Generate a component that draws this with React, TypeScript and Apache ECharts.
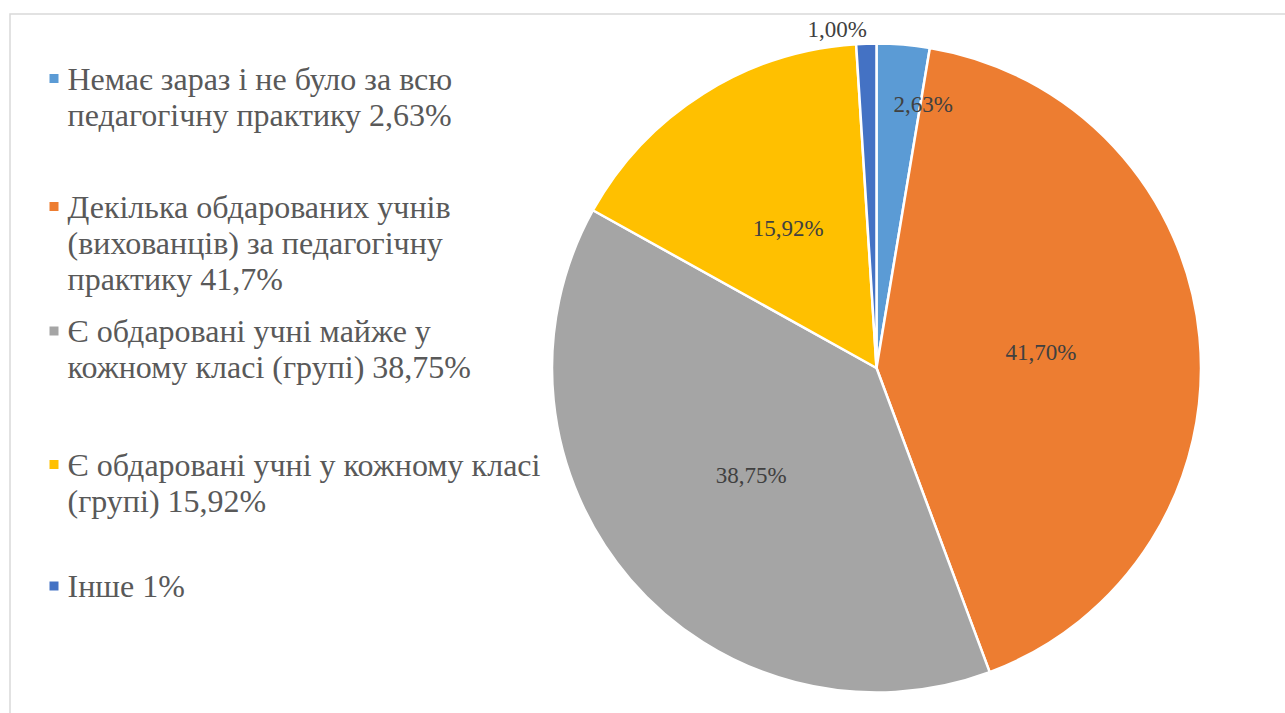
import React, { useEffect, useRef } from "react";
import * as echarts from "echarts";

// ---- Data ----
const categories: string[] = [
  "Немає зараз і не було за всю педагогічну практику 2,63%",
  "Декілька обдарованих учнів (вихованців) за педагогічну практику 41,7%",
  "Є обдаровані учні майже у кожному класі (групі) 38,75%",
  "Є обдаровані учні у кожному класі (групі) 15,92%",
  "Інше 1%",
];
const legendLines: string[][] = [
  ["Немає зараз і не було за всю", "педагогічну практику 2,63%"],
  ["Декілька обдарованих учнів", "(вихованців) за педагогічну", "практику 41,7%"],
  ["Є обдаровані учні майже у", "кожному класі (групі) 38,75%"],
  ["Є обдаровані учні у кожному класі", "(групі) 15,92%"],
  ["Інше 1%"],
];
const values: number[] = [2.63, 41.7, 38.75, 15.92, 1.0];
const colors: string[] = ["#5B9BD5", "#ED7D31", "#A5A5A5", "#FFC000", "#4472C4"];

// ---- Layout config ----
const FONT = "Times New Roman";
const LEGEND_LH = 36;
const LEGEND_CENTERS = [78.5, 206.5, 331, 464.5, 586];
const LABEL_NUDGE: { dx: number; dy: number }[] = [
  { dx: 33, dy: -99 },
  { dx: 0, dy: 0 },
  { dx: 0, dy: 0 },
  { dx: 0, dy: 0 },
  { dx: -34, dy: -173 },
];

const FONT_CSS =
  '#root svg text, #root svg tspan { font-family: "Times New Roman", "Liberation Serif", serif !important; }';

export default function App() {
  const ref = useRef<HTMLDivElement>(null);
  useEffect(() => {
    if (!ref.current) return;
    const chart = echarts.init(ref.current, undefined, { renderer: "svg" });

    const legends = categories.map((name, i) => {
      const n = legendLines[i].length;
      // leading blank lines keep the first line level with the marker
      const text = new Array(n - 1).fill(" ").concat(legendLines[i]).join("\n");
      return {
        data: [{ name, icon: "rect" }],
        orient: "vertical",
        left: 47.5,
        top: LEGEND_CENTERS[i] - ((2 * n - 1) * LEGEND_LH) / 2,
        padding: 0,
        itemWidth: 11,
        itemHeight: 11,
        selectedMode: false,
        formatter: () => text,
        textStyle: {
          fontFamily: FONT,
          fontSize: 32,
          color: "#595959",
          lineHeight: LEGEND_LH,
          padding: [0, 0, 0, 3],
        },
      };
    });

    chart.setOption({
      animation: false,
      backgroundColor: "#ffffff",
      textStyle: { fontFamily: FONT },
      graphic: [
        {
          type: "rect",
          shape: { x: 10, y: 14, width: 1300, height: 750 },
          style: { fill: "none", stroke: "#d9d9d9", lineWidth: 1.5 },
          silent: true,
        },
      ],
      legend: legends,
      series: [
        {
          type: "pie",
          center: [876.5, 368],
          radius: 324.5,
          startAngle: 90,
          clockwise: true,
          avoidLabelOverlap: false,
          itemStyle: { borderColor: "#ffffff", borderWidth: 2.5 },
          label: {
            show: true,
            position: "inside",
            fontFamily: FONT,
            fontSize: 23,
            color: "#404040",
            formatter: (p: any) => p.value.toFixed(2).replace(".", ",") + "%",
          },
          labelLine: { show: false },
          labelLayout: (params: any) => LABEL_NUDGE[params.dataIndex],
          emphasis: { disabled: true },
          data: categories.map((name, i) => ({
            name,
            value: values[i],
            itemStyle: { color: colors[i] },
          })),
        },
      ],
    });

    return () => chart.dispose();
  }, []);

  return (
    <>
      <style>{FONT_CSS}</style>
      <div
        ref={ref}
        style={{ position: "fixed", left: 0, top: 0, width: 1285, height: 713 }}
      />
    </>
  );
}
